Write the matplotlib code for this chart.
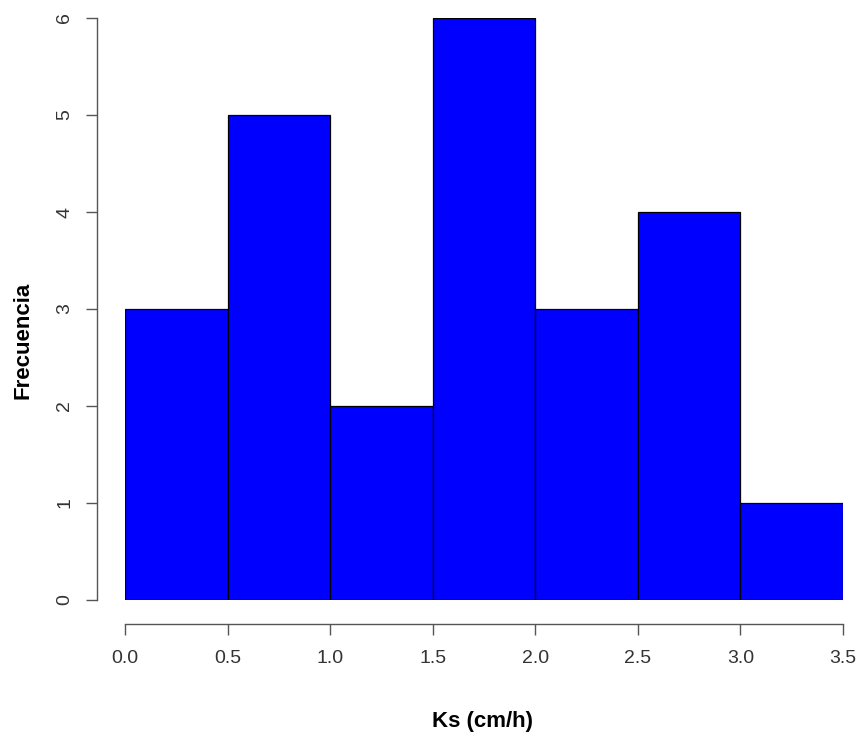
import numpy as np
from matplotlib import pyplot as plt

plt.rcParams['font.family'] = ['Liberation Sans', 'DejaVu Sans']

edges = [0.0, 0.5, 1.0, 1.5, 2.0, 2.5, 3.0, 3.5]
counts = [3, 5, 2, 6, 3, 4, 1]
x_ticks = [0.0, 0.5, 1.0, 1.5, 2.0, 2.5, 3.0, 3.5]
y_ticks = [0, 1, 2, 3, 4, 5, 6]

W, H = 860, 735
fig = plt.figure(figsize=(W / 100, H / 100), dpi=100)
ax = fig.add_axes([125 / W, (H - 600) / H, (843 - 125) / W, (600 - 18) / H])

lefts = np.array(edges[:-1])
widths = np.diff(edges)
ax.bar(lefts, counts, width=widths, align='edge', color='#0000ff',
       edgecolor='black', linewidth=0.9)

ax.set_xlim(0, 3.5)
ax.set_ylim(0, 6)
ax.set_xticks(x_ticks)
ax.set_xticklabels([f"{v:.1f}" for v in x_ticks])
ax.set_yticks(y_ticks)
ax.set_yticklabels([str(v) for v in y_ticks])

# R-style detached axes
for s in ['top', 'right']:
    ax.spines[s].set_visible(False)
ax.spines['left'].set_position(('outward', 28 * 0.72))
ax.spines['bottom'].set_position(('outward', 24 * 0.72))
ax.spines['left'].set_bounds(0, 6)
ax.spines['bottom'].set_bounds(0, 3.5)
for s in ['left', 'bottom']:
    ax.spines[s].set_color('#555555')
    ax.spines[s].set_linewidth(1.0)
ax.tick_params(length=8, width=1.0, color='#555555', labelcolor='#333333',
               labelsize=14)
ax.tick_params(axis='x', pad=11)
ax.tick_params(axis='y', pad=9, labelrotation=90)
for lab in ax.get_yticklabels():
    lab.set_va('center')

fig.text(483 / W, 1 - 721 / H, "Ks (cm/h)", ha='center', va='center',
         fontsize=16, fontweight='bold', color='black')
fig.text(23 / W, 1 - 340 / H, "Frecuencia", ha='center', va='center',
         rotation=90, fontsize=16, fontweight='bold', color='black')

fig.savefig("out.png", dpi=100)
